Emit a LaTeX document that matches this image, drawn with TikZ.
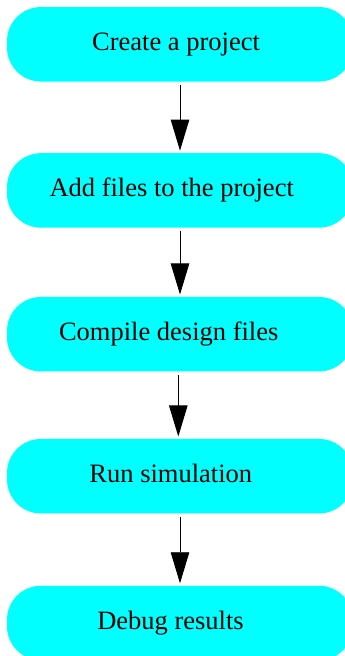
\documentclass[tikz,border=0pt]{standalone}
\usepackage{fontspec}
\setmainfont{Liberation Serif}
\usetikzlibrary{arrows.meta}
\definecolor{boxcyan}{RGB}{0,255,255}
\begin{document}
\begin{tikzpicture}[x=1pt,y=1pt,
  box/.style={fill=boxcyan, draw=none, rounded corners=34pt,
    minimum width=346pt, minimum height=74.5pt, inner sep=0pt},
  lbl/.style={font=\fontsize{26.5}{30}\selectfont, text height=18.5pt, text depth=5.8pt, inner sep=0pt},
  arr/.style={draw=black, line width=0.8pt,
    -{Triangle[length=31pt,width=18.5pt]}, shorten <=3.3pt, shorten >=2.3pt}]
\useasboundingbox (0,0) rectangle (345,-656);
\clip (0,0) rectangle (345,-656);
\node[box, label={[lbl,xshift=-4pt]center:Create a project}] (b1) at (180,-44.3) {};
\node[box, label={[lbl,xshift=-8.3pt]center:Add files to the project}] (b2) at (180,-190.4) {};
\node[box, label={[lbl,xshift=-11.3pt]center:Compile design files}] (b3) at (180,-334.2) {};
\node[box, label={[lbl,xshift=-9.2pt]center:Run simulation}] (b4) at (180,-476.2) {};
\node[box, label={[lbl,xshift=-9.5pt]center:Debug results}] (b5) at (180,-623) {};
\draw[arr] (b1) -- (b2);
\draw[arr] (b2) -- (b3);
\draw[arr] ([xshift=-1.7pt]b3.south) -- ([xshift=-1.7pt]b4.north);
\draw[arr] (b4) -- (b5);
\end{tikzpicture}
\end{document}
